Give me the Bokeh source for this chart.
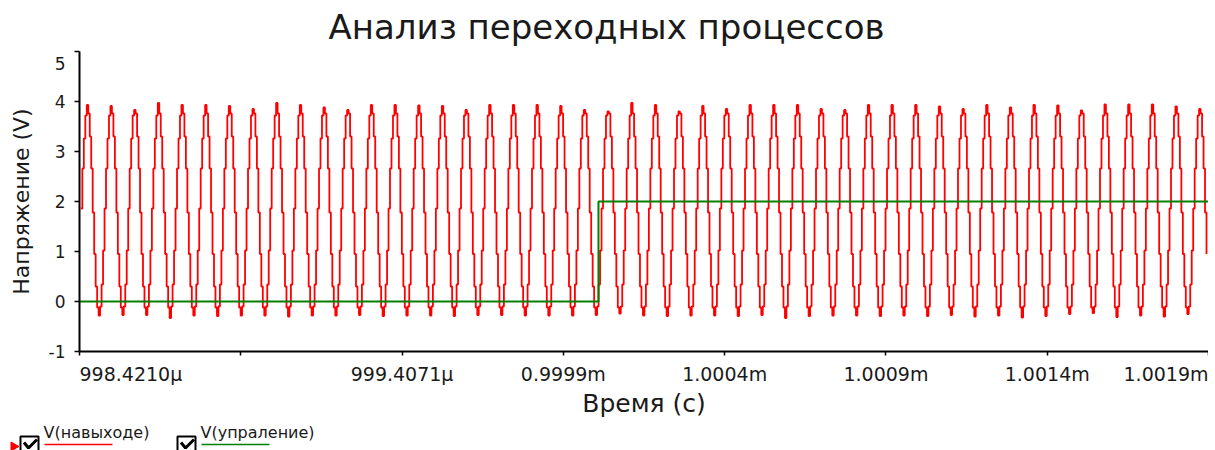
from bokeh.plotting import figure
from bokeh.models import Range1d, FixedTicker, ColumnDataSource
from bokeh.layouts import column
from bokeh.core.properties import value
from bokeh.embed import file_html
from bokeh.resources import INLINE

# ---------------- data ----------------
title_text = "Анализ переходных процессов"
x_label = "Время (с)"
y_label = "Напряжение (V)"
series_names = ["V(навыходе)", "V(упраление)"]

# time axis (µs)
x_ticks = [998.4210, 998.9140, 999.4071, 999.9001, 1000.3932, 1000.8862, 1001.3793, 1001.8723]
x_tick_labels = ["998.4210µ", "", "999.4071µ", "0.9999m", "1.0004m", "1.0009m", "1.0014m", "1.0019m"]
y_ticks = [-1, 0, 1, 2, 3, 4, 5]

# V(навыходе): sampled output, one period = 16 samples
out_t_first = 998.4252      # µs
out_dt = 0.0045217          # µs per sample
out_t_last = 1001.8700      # µs
out_cycle_shape = [1.86, 2.66, 3.26, 3.72, 3.90, 3.76, 3.30, 2.66,
                   1.78, 0.95, 0.30, -0.12, -0.28, -0.10, 0.34, 1.02]
out_peak_index = 4
out_trough_index = 12
out_cycle_peaks = [3.93, 3.91, 3.83, 3.97, 3.93, 3.93, 3.91, 3.85, 3.97, 3.93, 3.88, 3.83,
                   3.93, 3.93, 3.92, 3.91, 3.83, 3.93, 3.93, 3.93, 3.91, 3.83, 3.80, 3.97,
                   3.93, 3.80, 3.91, 3.85, 3.93, 3.93, 3.93, 3.85, 3.83, 3.93, 3.93, 3.93,
                   3.90, 3.85, 3.93, 3.88, 3.93, 3.92, 3.82, 3.94, 3.94, 3.94, 3.90, 3.85]
out_cycle_troughs = [-0.28, -0.27, -0.27, -0.33, -0.28, -0.29, -0.28, -0.28, -0.30, -0.28, -0.28, -0.27,
                     -0.29, -0.28, -0.28, -0.29, -0.27, -0.27, -0.28, -0.28, -0.28, -0.27, -0.24, -0.28,
                     -0.29, -0.28, -0.28, -0.29, -0.27, -0.33, -0.29, -0.28, -0.28, -0.29, -0.28, -0.29,
                     -0.27, -0.30, -0.28, -0.32, -0.29, -0.25, -0.23, -0.31, -0.28, -0.30, -0.25, -0.18]

# V(упраление): control step
ctrl_t = [998.4210, 1000.0050, 1000.0075, 1001.8723]
ctrl_v = [0.0, 0.0, 2.0, 2.0]

# ---------------- build table ----------------
out_v = []
for pk, tr in zip(out_cycle_peaks, out_cycle_troughs):
    c = list(out_cycle_shape)
    c[out_peak_index] = pk
    c[out_trough_index] = tr
    out_v.extend(c)
out_t = [out_t_first + i * out_dt for i in range(len(out_v))]
keep = [i for i, t in enumerate(out_t) if t <= out_t_last]
out_src = ColumnDataSource(dict(t=[out_t[i] for i in keep], v=[out_v[i] for i in keep]))
ctrl_src = ColumnDataSource(dict(t=ctrl_t, v=ctrl_v))

FONT = "DejaVu Sans"
TXT = "#1a1a1a"
RED = "#ff0000"
GREEN = "#008000"

W = 1208
FRAME_LEFT = 79

# ---------------- main plot ----------------
x_rng = Range1d(x_ticks[0], x_ticks[-1])
p = figure(width=W, height=364, output_backend="svg", toolbar_location=None,
           x_range=x_rng, y_range=Range1d(y_ticks[0], y_ticks[-1]),
           min_border_left=FRAME_LEFT, min_border_right=0, min_border_top=51, min_border_bottom=13)
p.outline_line_color = None
p.grid.visible = False

p.title.text = title_text
p.title.align = "left"
p.title.offset = 249
p.title.standoff = 9
p.title.text_font = FONT
p.title.text_font_size = "34px"
p.title.text_font_style = "normal"
p.title.text_color = TXT

p.step("t", "v", source=out_src, mode="after", line_color=RED, line_width=1.8)
p.step("t", "v", source=ctrl_src, mode="after", line_color=GREEN, line_width=2)

for ax in p.axis:
    ax.axis_line_color = "black"
    ax.axis_line_width = 2
    ax.major_tick_line_color = "black"
    ax.major_tick_line_width = 1.5
    ax.major_tick_in = 0
    ax.minor_tick_line_color = None
    ax.major_label_text_font = FONT
    ax.major_label_text_color = TXT
    ax.axis_label_text_font = FONT
    ax.axis_label_text_font_style = "normal"
    ax.axis_label_text_color = TXT

p.yaxis.ticker = FixedTicker(ticks=y_ticks)
# top label sits just inside the axis span, as in the reference; plain hyphen for -1
p.yaxis.major_label_overrides = {y_ticks[-1]: "\n" + str(y_ticks[-1]), y_ticks[0]: str(y_ticks[0])}
p.yaxis.major_tick_out = 5
p.yaxis.major_label_standoff = 9
p.yaxis.major_label_text_font_size = "17px"
p.yaxis.axis_label = y_label
p.yaxis.axis_label_text_font_size = "22px"
p.yaxis.axis_label_standoff = 12

# x ticks on the axis; their labels are set in the strip below (first one left-, last one right-aligned)
p.xaxis.ticker = FixedTicker(ticks=x_ticks)
p.xaxis.major_label_overrides = {t: "" for t in x_ticks}
p.xaxis.major_label_text_font_size = "1px"
p.xaxis.major_label_standoff = 0
p.xaxis.major_tick_out = 4

# ---------------- tick-label / axis-title strip (shares the x range) ----------------
SH = 58
s = figure(width=W, height=SH, output_backend="svg", toolbar_location=None,
           x_range=x_rng, y_range=Range1d(0, SH),
           x_axis_location=None, y_axis_location=None,
           min_border_left=FRAME_LEFT, min_border_right=0, min_border_top=0, min_border_bottom=0)
s.outline_line_color = None
s.grid.visible = False

lab_idx = [i for i, l in enumerate(x_tick_labels) if l]
first, last = lab_idx[0], lab_idx[-1]
mid = lab_idx[1:-1]
tick_text = dict(y=49, text_font=value(FONT), text_font_size="19px", text_color=TXT,
                 text_baseline="alphabetic")
s.text(x=[x_ticks[first]], text=[x_tick_labels[first]], text_align="left", **tick_text)
s.text(x=[x_ticks[i] for i in mid], text=[x_tick_labels[i] for i in mid], text_align="center", **tick_text)
s.text(x=[x_ticks[last]], text=[x_tick_labels[last]], text_align="right", **tick_text)
s.text(x=[(x_ticks[0] + x_ticks[-1]) / 2], y=[19], text=[x_label], text_align="center",
       text_baseline="alphabetic", text_font=value(FONT), text_font_size="25px", text_color=TXT)

# ---------------- legend strip ----------------
LH = 28
lg = figure(width=W, height=LH, output_backend="svg", toolbar_location=None,
            x_range=Range1d(0, W), y_range=Range1d(0, LH),
            x_axis_location=None, y_axis_location=None,
            min_border_left=0, min_border_right=0, min_border_top=0, min_border_bottom=0)
if "frame_align" in type(lg).properties():
    lg.frame_align = False
lg.outline_line_color = None
lg.grid.visible = False

lg.patch([10.5, 10.5, 18.5], [8.5, -0.5, 4], fill_color=RED, line_color=RED)
for bx, col, name in ((20, RED, series_names[0]), (177, GREEN, series_names[1])):
    lg.quad(left=bx, right=bx + 18, top=14, bottom=-5, fill_color=None, line_color="black", line_width=2)
    lg.line([bx + 3.5, bx + 8, bx + 16.5], [8, 2.5, 11], line_color="black", line_width=3)
    lg.text([bx + 23], [18], text=[name], text_font=value(FONT), text_font_size="16px",
            text_color=TXT, text_baseline="alphabetic", text_align="left")
    lg.segment(x0=[bx + 24], y0=[6], x1=[bx + 92], y1=[6], line_color=col, line_width=1.5)

layout = column(p, s, lg, spacing=0)
open("out.html", "w").write(file_html(layout, INLINE))
